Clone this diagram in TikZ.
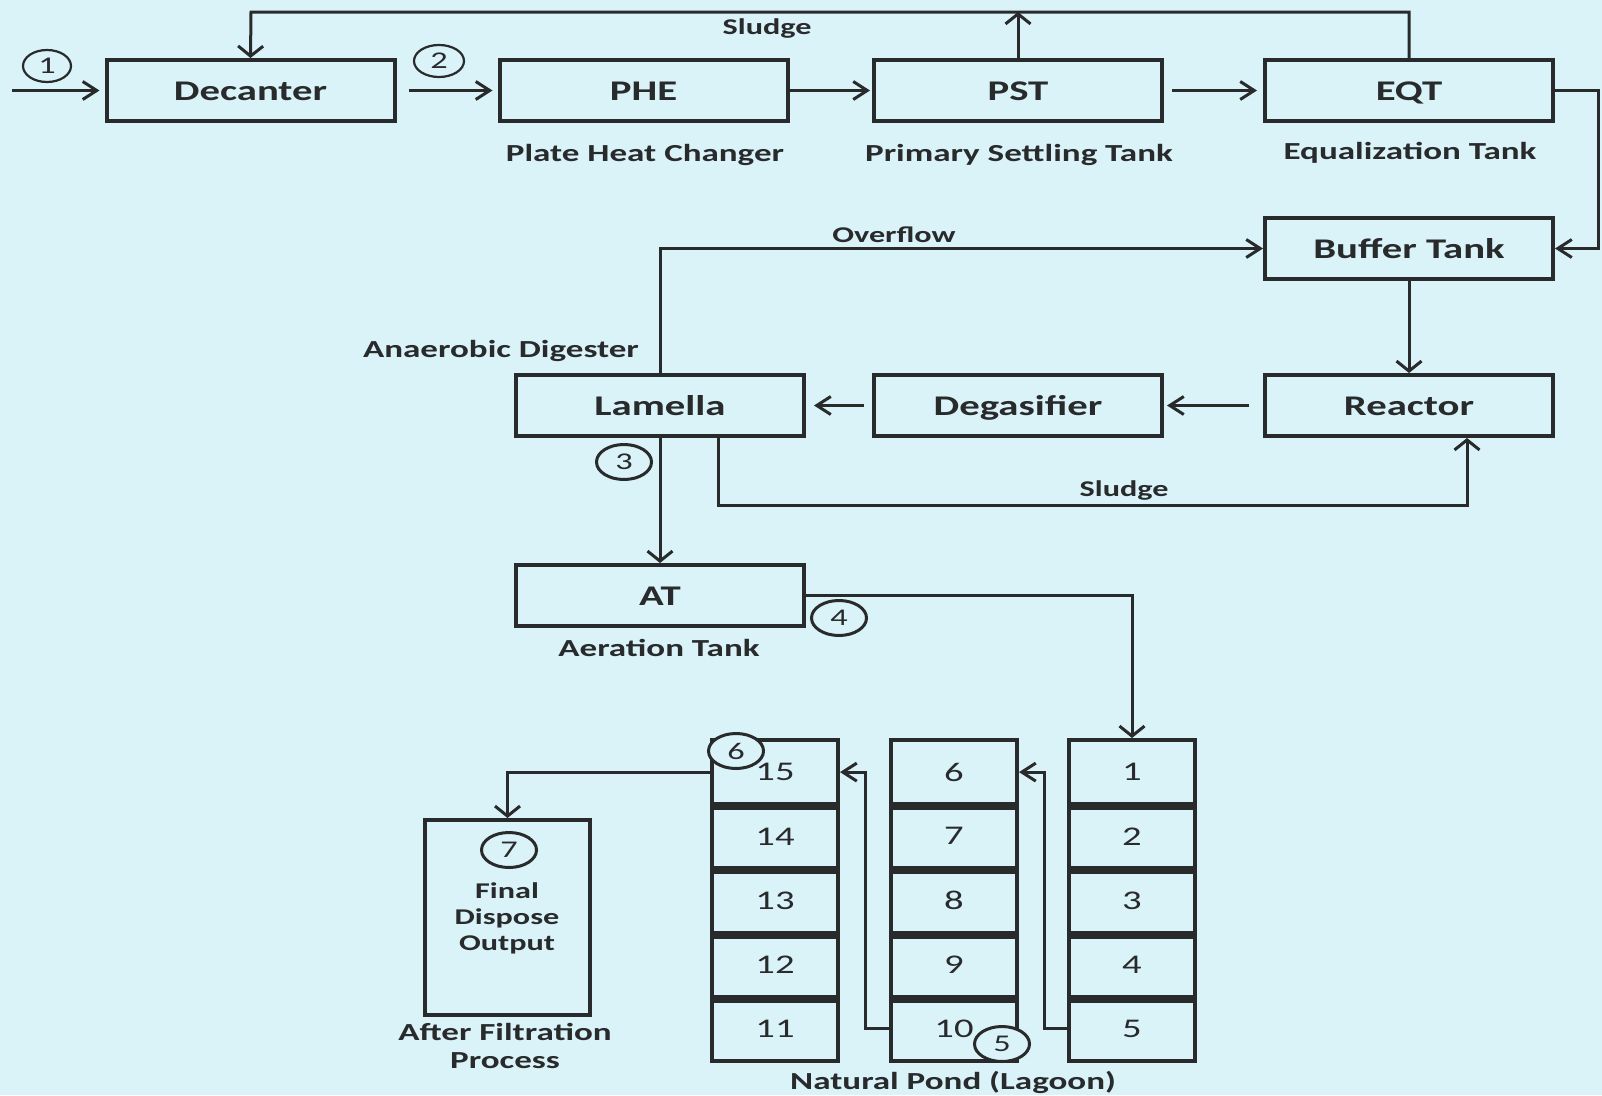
\documentclass[tikz,border=0pt]{standalone}
\usepackage{fontspec}
\setmainfont{Carlito}[FakeStretch=1.43]
\usetikzlibrary{shapes.geometric,arrows.meta}
\definecolor{bg}{RGB}{218,243,248}
\definecolor{ink}{RGB}{40,42,44}
\begin{document}
\begin{tikzpicture}[x=1pt,y=-1pt,
  box/.style={draw=ink, line width=4pt, minimum width=288pt, minimum height=61pt, inner sep=0pt, text height=20pt, text depth=0pt, font=\fontsize{28.5}{30}\selectfont\bfseries, text=ink},
  lbl/.style={font=\fontsize{24.5}{26}\selectfont\bfseries, text=ink, inner sep=0pt},
  slbl/.style={font=\fontsize{22.5}{24}\selectfont\bfseries, text=ink, inner sep=0pt},
  cell/.style={draw=ink, line width=4pt, minimum width=126pt, minimum height=64.2pt, inner sep=0pt, font=\fontsize{27}{28}\selectfont, text=ink},
  num/.style={ellipse, draw=ink, line width=3pt, fill=bg, minimum width=55pt, minimum height=35pt, inner sep=0pt, font=\fontsize{24}{26}\selectfont, text=ink},
  pipe/.style={draw=ink, line width=3pt},
  harr/.style={pipe, -{Straight Barb[length=14pt,width=18pt,line width=3pt]}},
  varr/.style={pipe, -{Straight Barb[length=10pt,width=25pt,line width=3pt]}},
]
\path[fill=bg, use as bounding box] (0,0) rectangle (1602,1095);

% main boxes
\node[box] (dec) at (250.5,90.5) {Decanter};
\node[box] (phe) at (643.5,90.5) {PHE};
\node[box] (pst) at (1018,90.5) {PST};
\node[box] (eqt) at (1409,90.5) {EQT};
\node[box] (buf) at (1409,248.5) {Buffer Tank};
\node[box] (lam) at (660,405.5) {Lamella};
\node[box] (deg) at (1018,405.5) {Degasifier};
\node[box] (rea) at (1409,405.5) {Reactor};
\node[box] (at) at (660,595.5) {AT};

% labels
\node[lbl] (lphe) at (645,155) {Plate Heat Changer};
\node[lbl] (lpst) at (1019,155) {Primary Settling Tank};
\node[lbl] (leqt) at (1410,153) {Equalization Tank};
\node[slbl] (lsl1) at (767,29) {Sludge};
\node[slbl] (lovf) at (894,235) {Overflow};
\node[lbl] (lana) at (501,351) {Anaerobic Digester};
\node[slbl] (lsl2) at (1124,491) {Sludge};
\node[lbl] (lat) at (659,648) {Aeration Tank};

% final box
\node[draw=ink, line width=4pt, minimum width=165pt, minimum height=195pt, inner sep=0pt] (fin) at (507.5,917.5) {};
\node[slbl] (tf1) at (507,891) {Final};
\node[slbl] (tf2) at (507,918) {Dispose};
\node[slbl] (tf3) at (507,945) {Output};
\node[lbl] (laf1) at (505,1032) {After Filtration};
\node[lbl] (laf2) at (505,1061) {Process};
\node[lbl] (lpond) at (953,1082) {Natural Pond (Lagoon)};

% pond cells
\foreach \n [count=\i] in {1,...,5} {
  \node[cell] (p\n) at (1132,{772.1+(\i-1)*64.2}) {\n};
}
\foreach \n [count=\i] in {6,...,10} {
  \node[cell] (p\n) at (954,{772.1+(\i-1)*64.2}) {\n};
}
\foreach \n [count=\i] in {15,14,13,12,11} {
  \node[cell] (p\n) at (775,{772.1+(\i-1)*64.2}) {\n};
}
\foreach \n in {1,2,3,4,6,7,8,9,15,14,13,12} {
  \draw[ink, line width=8pt] (p\n.south west) -- (p\n.south east);
}

% connectors top row
\coordinate (in) at (12,90.5);
\draw[harr, shorten >=5pt] (in) -- (dec.west);
\draw[harr, shorten <=12pt, shorten >=5pt] (dec) -- (phe);
\draw[harr, shorten >=2pt] (phe) -- (pst);
\draw[harr, shorten <=8pt, shorten >=6pt] (pst) -- (eqt);
\coordinate (tl) at (251,12);
\coordinate (tr) at (1409,12);
\coordinate (tm) at (1018,12);
\draw[varr] (eqt.north) -- (tr) -- (tl) -- (dec.north);
\draw[varr] (pst.north) -- (tm);
\coordinate (rt) at (1598,90.5);
\coordinate (rb) at (1598,248.5);
\draw[harr] (eqt.east) -- (rt) -- (rb) -- (buf.east);

% middle
\draw[harr] (lam.north) |- (buf.west);
\draw[varr] (buf) -- (rea);
\draw[harr, shorten <=14pt, shorten >=3pt] (rea) -- (deg);
\draw[harr, shorten <=8pt, shorten >=8pt] (deg) -- (lam);
\coordinate (sl1) at (718,505);
\coordinate (sl2) at (1467,505);
\draw[varr] (lam.south -| sl1) -- (sl1) -- (sl2) -- (rea.south -| sl2);
\draw[varr] (lam) -- (at);
\draw[varr] (at.east) -| (p1.north);

% pond flows
\coordinate (j1) at (1044,1028.9);
\draw[harr] (p5.west) -- (j1) |- (p6.east);
\coordinate (j2) at (865,1028.9);
\draw[harr] (p10.west) -- (j2) |- (p15.east);
\draw[varr] (p15.west) -| (fin.north);

% numbered circles
\node[num, minimum width=48pt, minimum height=32pt, line width=2.2pt] (n1) at (47,66) {1};
\node[num, minimum width=50pt, minimum height=32pt, line width=2.2pt] (n2) at (439,61) {2};
\node[num] (n3) at (624,462) {3};
\node[num] (n4) at (839,618) {4};
\node[num] (n5) at (1002,1044) {5};
\node[num] (n6) at (736,751) {6};
\node[num] (n7) at (509,850) {7};
\end{tikzpicture}
\end{document}
